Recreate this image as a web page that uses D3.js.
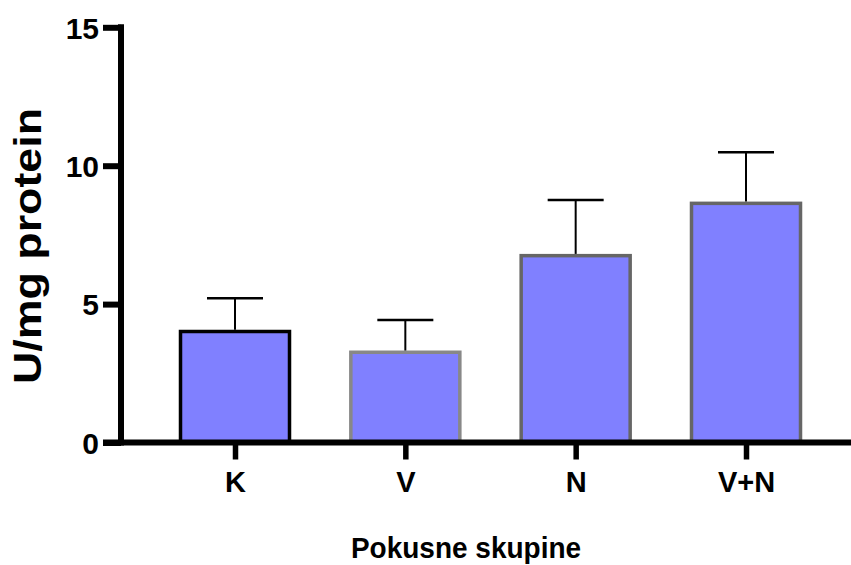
<!DOCTYPE html>
<html>
<head>
<meta charset="utf-8">
<script src="https://cdn.jsdelivr.net/npm/d3@7"></script>
<style>
  html, body { margin: 0; padding: 0; background: #fff; }
  text { font-family: "Liberation Sans", Arial, Helvetica, sans-serif; font-weight: bold; fill: #000; }
</style>
</head>
<body>
<svg id="chart" width="851" height="565"></svg>
<script>
const categories = ["K", "V", "N", "V+N"];
const means = [4.01, 3.26, 6.75, 8.64];
const errUpper = [5.21, 4.43, 8.76, 10.49];
const yTicks = [0, 5, 10, 15];
const barStroke = ["#000000", "#888888", "#666666", "#666666"];
const yTitle = "U/mg protein";
const xTitle = "Pokusne skupine";

const svg = d3.select("#chart");
const W = 851, H = 565;

const y = d3.scaleLinear().domain([0, 15]).range([442.5, 27.3]);
const x = d3.scalePoint().domain(categories).range([235, 746]);
const barW = 109;
const capW = 56;

// bars
const g = svg.append("g");
categories.forEach((c, i) => {
  g.append("rect")
    .attr("x", x(c) - barW / 2)
    .attr("y", y(means[i]))
    .attr("width", barW)
    .attr("height", y(0) - y(means[i]))
    .attr("fill", "#8080ff")
    .attr("stroke", barStroke[i])
    .attr("stroke-width", 3.5);
  // error bar
  g.append("line")
    .attr("x1", x(c)).attr("x2", x(c))
    .attr("y1", y(means[i]) - 1.75).attr("y2", y(errUpper[i]))
    .attr("stroke", "#000").attr("stroke-width", 2);
  g.append("line")
    .attr("x1", x(c) - capW / 2).attr("x2", x(c) + capW / 2)
    .attr("y1", y(errUpper[i])).attr("y2", y(errUpper[i]))
    .attr("stroke", "#000").attr("stroke-width", 2.5);
});

// y axis
const yAxis = d3.axisLeft(y).tickValues(yTicks).tickSize(18).tickSizeOuter(0).tickPadding(4);
const yg = svg.append("g").attr("transform", "translate(121,0)").call(yAxis);
yg.select(".domain").remove();
yg.selectAll(".tick line").attr("stroke", "#000").attr("stroke-width", 6);
yg.selectAll(".tick text").style("font-size", "30px").attr("dy", "0.36em");
yg.append("line")
  .attr("x1", 0).attr("x2", 0)
  .attr("y1", y(15) - 3).attr("y2", y(0) + 3)
  .attr("stroke", "#000").attr("stroke-width", 6);

// x axis
const xAxis = d3.axisBottom(x).tickSize(17).tickSizeOuter(0).tickPadding(12);
const xg = svg.append("g").attr("transform", `translate(0,${y(0)})`).call(xAxis);
xg.select(".domain").remove();
xg.selectAll(".tick line").attr("stroke", "#000").attr("stroke-width", 5.5);
xg.selectAll(".tick text").style("font-size", "29px").attr("y", 29).attr("dy", "0.71em");
xg.append("line")
  .attr("x1", 103).attr("x2", W)
  .attr("y1", 0).attr("y2", 0)
  .attr("stroke", "#000").attr("stroke-width", 6);

// titles
svg.append("text")
  .attr("transform", "translate(466,558) scale(1,1.08)")
  .attr("text-anchor", "middle")
  .style("font-size", "28px")
  .text(xTitle);

svg.append("text")
  .attr("transform", "translate(41,246) rotate(-90)")
  .attr("text-anchor", "middle")
  .attr("textLength", 276)
  .attr("lengthAdjust", "spacingAndGlyphs")
  .style("font-size", "38px")
  .text(yTitle);
</script>
</body>
</html>
